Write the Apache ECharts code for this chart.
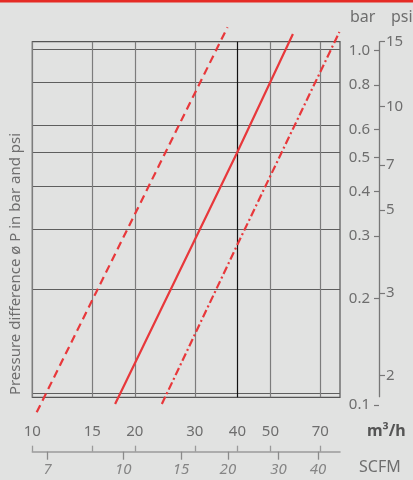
<!DOCTYPE html>
<html><head><meta charset="utf-8">
<script src="https://cdn.jsdelivr.net/npm/echarts@6/dist/echarts.min.js"></script>
<style>html,body{margin:0;padding:0;background:#e1e2e1}#c{width:413px;height:480px}</style>
</head><body><div id="c"></div><script>
// ---- data ----
const flowTicks = [10, 15, 20, 30, 40, 50, 70];            // m³/h
const barTicks = [1.0, 0.8, 0.6, 0.5, 0.4, 0.3, 0.2, 0.1];  // bar
const psiTickLabels = ['15', '10', '7', '5', '3', '2'];
const psiTickAtBar = [1.06, 0.695, 0.476, 0.355, 0.207, 0.121];
const scfmTickLabels = ['7', '10', '15', '20', '30', '40'];
const scfmTickAtFlow = [11.1, 18.5, 27.3, 37.5, 52.8, 68.9];
const dashedFlow = [10.3, 37.4];
const dashedDp = [0.0877, 1.159];
const solidFlow = [17.5, 39.7, 58.2];
const solidDp = [0.0927, 0.495, 1.108];
const dashDotFlow = [24.0, 40.0, 79.7];
const dashDotDp = [0.0927, 0.27, 1.123];

const RED = '#e8383b';
const TXT = '#6e6e6e';
const FONT = 'Noto Sans';
const pts = (xs, ys) => xs.map((x, i) => [x, ys[i]]);
const nearestLabel = (v, at, labels) => {
  let bi = 0, bd = Infinity;
  at.forEach((a, i) => { const d = Math.abs(Math.log(a) - Math.log(v)); if (d < bd) { bd = d; bi = i; } });
  return labels[bi];
};

const L = 32.3, R = 340, T = 41.7, B = 397.3;
const chart = echarts.init(document.getElementById('c'), null, {renderer: 'canvas'});
const vColors = flowTicks.map(v => v === 40 ? '#111111' : '#7c7c7c');

chart.setOption({
  backgroundColor: '#e1e2e1',
  animation: false,
  textStyle: {fontFamily: FONT},
  grid: [
    {left: L, top: T, width: R - L, height: B - T, show: true, borderColor: '#555', borderWidth: 1.2, backgroundColor: 'transparent'},
    {left: 379, top: T, width: 1, height: 405 - T},
    {left: 379, top: T, width: 1, height: 396.7 - T},
    {left: L, top: 450.7, width: R - L, height: 1}
  ],
  xAxis: [
    {gridIndex: 0, type: 'log', logBase: 10, min: 10, max: 80,
     axisLine: {show: false}, axisTick: {show: false, customValues: flowTicks},
     axisLabel: {customValues: flowTicks, margin: 27, color: TXT, fontSize: 15, fontFamily: FONT, formatter: v => String(Math.round(v))},
     splitLine: {show: true, lineStyle: {color: vColors, width: 1.2}}},
    {gridIndex: 3, type: 'log', logBase: 10, min: 10, max: 80, position: 'bottom',
     axisLine: {show: true, lineStyle: {color: '#9a9a9a', width: 1.5}},
     axisTick: {show: true, inside: true, length: 6, customValues: flowTicks, lineStyle: {color: '#9a9a9a', width: 1.3}},
     axisLabel: {show: false}, splitLine: {show: false}},
    {gridIndex: 3, type: 'log', logBase: 10, min: 10, max: 80, position: 'bottom',
     axisLine: {show: false},
     axisTick: {show: true, inside: false, length: 8, customValues: scfmTickAtFlow, lineStyle: {color: '#8a8a8a', width: 1.3}},
     axisLabel: {customValues: scfmTickAtFlow, margin: 11, color: '#858585', fontSize: 15, fontStyle: 'italic', fontFamily: FONT,
                 formatter: v => nearestLabel(v, scfmTickAtFlow, scfmTickLabels)},
     splitLine: {show: false}},
    {gridIndex: 1, type: 'value', show: false},
    {gridIndex: 2, type: 'value', show: false}
  ],
  yAxis: [
    {gridIndex: 0, type: 'log', logBase: 10, min: 0.097, max: 1.052,
     axisLine: {show: false}, axisTick: {show: false, customValues: barTicks}, axisLabel: {show: false},
     splitLine: {show: true, lineStyle: {color: '#5e5e5e', width: 1}}},
    {gridIndex: 1, type: 'log', logBase: 10, min: 0.1, max: 1.06, position: 'left',
     axisLine: {show: false},
     axisTick: {show: true, length: 5, customValues: barTicks, lineStyle: {color: '#777', width: 1.2}},
     axisLabel: {customValues: barTicks, margin: 9, color: TXT, fontSize: 15, fontFamily: FONT, formatter: v => v.toFixed(1)},
     splitLine: {show: false}},
    {gridIndex: 1, type: 'log', logBase: 10, min: 0.1, max: 1.06, position: 'right',
     axisLine: {show: false},
     axisTick: {show: true, length: 5, customValues: psiTickAtBar, lineStyle: {color: '#777', width: 1.2}},
     axisLabel: {customValues: psiTickAtBar, margin: 6, color: TXT, fontSize: 15, fontFamily: FONT,
                 formatter: v => nearestLabel(v, psiTickAtBar, psiTickLabels)},
     splitLine: {show: false}},
    {gridIndex: 2, type: 'value', min: 0, max: 1,
     axisLine: {show: true, lineStyle: {color: '#777', width: 1.3}},
     axisTick: {show: false}, axisLabel: {show: false}, splitLine: {show: false}},
    {gridIndex: 3, type: 'value', show: false}
  ],
  graphic: [
    {type: 'rect', left: 0, top: 0, shape: {width: 413, height: 2.5}, style: {fill: '#e52b25'}},
    {type: 'text', left: 350, top: 9, style: {text: 'bar', fill: TXT, font: '16px "Noto Sans"'}},
    {type: 'text', left: 391, top: 9, style: {text: 'psi', fill: TXT, font: '16px "Noto Sans"'}},
    {type: 'text', left: 367, top: 423, style: {text: 'm³/h', fill: '#555', font: 'bold 16px "Noto Sans"'}},
    {type: 'text', left: 359, top: 459, style: {text: 'SCFM', fill: TXT, font: '16px "Noto Sans"'}},
    {type: 'text', x: 15.5, y: 264, rotation: Math.PI / 2,
     style: {text: 'Pressure difference ø P in bar and psi', fill: TXT, font: '15px "Noto Sans"', align: 'center', verticalAlign: 'middle'}}
  ],
  series: [
    {type: 'line', xAxisIndex: 0, yAxisIndex: 0, data: pts(dashedFlow, dashedDp), symbol: 'none', clip: false,
     lineStyle: {color: RED, width: 2.2, type: [8, 5]}},
    {type: 'line', xAxisIndex: 0, yAxisIndex: 0, data: pts(solidFlow, solidDp), symbol: 'none', clip: false,
     lineStyle: {color: RED, width: 2.2}},
    {type: 'line', xAxisIndex: 0, yAxisIndex: 0, data: pts(dashDotFlow, dashDotDp), symbol: 'none', clip: false,
     lineStyle: {color: RED, width: 2.2, type: [8, 3, 2, 3]}}
  ]
});
</script></body></html>
